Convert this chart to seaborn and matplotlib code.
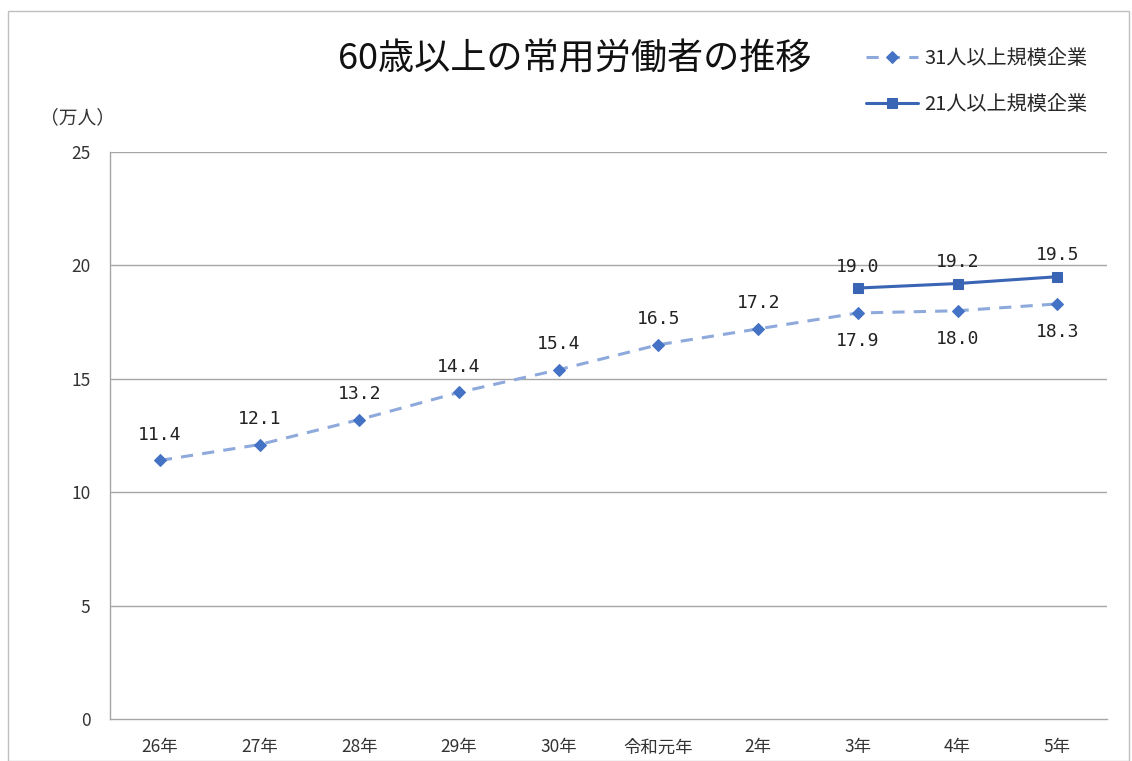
import matplotlib
matplotlib.use("Agg")
import matplotlib.pyplot as plt
import seaborn as sns
import pandas as pd
from matplotlib.patches import Rectangle

categories = ["26年", "27年", "28年", "29年", "30年", "令和元年", "2年", "3年", "4年", "5年"]
over31 = [11.4, 12.1, 13.2, 14.4, 15.4, 16.5, 17.2, 17.9, 18.0, 18.3]
over21_cats = ["3年", "4年", "5年"]
over21 = [19.0, 19.2, 19.5]
name31 = "31人以上規模企業"
name21 = "21人以上規模企業"

sns.set_theme(style="white")
plt.rcParams["font.family"] = ["Noto Sans CJK JP", "DejaVu Sans"]

df31 = pd.DataFrame({"年": categories, "人数": over31})
df21 = pd.DataFrame({"年": over21_cats, "人数": over21})
df31["x"] = range(len(categories))
df21["x"] = [categories.index(c) for c in over21_cats]

fig = plt.figure(figsize=(11.32, 7.61), dpi=100)
ax = fig.add_axes([0.0972, 0.0552, 0.8808, 0.7451])

c31_line = "#8EA9DB"
c_mark = "#4472C4"
c21 = "#3A64B4"

sns.lineplot(data=df31, x="x", y="人数", ax=ax, color=c31_line, lw=2.2,
             linestyle=(0, (4, 3)), marker="D", markersize=6.5,
             markerfacecolor=c_mark, markeredgecolor=c_mark, label=name31)
sns.lineplot(data=df21, x="x", y="人数", ax=ax, color=c21, lw=2.2,
             marker="s", markersize=7, markerfacecolor=c21,
             markeredgecolor=c21, label=name21)

ax.set_xlim(-0.5, len(categories) - 0.5)
ax.set_ylim(0, 25)
ax.set_yticks([0, 5, 10, 15, 20, 25])
ax.set_xticks([i - 0.5 for i in range(len(categories) + 1)], minor=False)
ax.set_xticklabels([])
ax.set_xticks(range(len(categories)), minor=True)
ax.set_xticklabels(categories, minor=True, fontsize=12.5, color="#333333")
ax.tick_params(axis="x", which="major", direction="out", length=6, color="#A6A6A6", width=1)
ax.tick_params(axis="x", which="minor", length=0, pad=14)
ax.tick_params(axis="y", direction="out", length=6, color="#A6A6A6", width=1,
               labelsize=12.5, labelcolor="#333333", pad=8)
ax.set_xlabel("")
ax.set_ylabel("")
for y in [5, 10, 15, 20, 25]:
    ax.axhline(y, color="#A6A6A6", lw=1, zorder=0)
for s in ["top", "right"]:
    ax.spines[s].set_visible(False)
for s in ["left", "bottom"]:
    ax.spines[s].set_color("#A6A6A6")
    ax.spines[s].set_linewidth(1)

lab_font = dict(family=["DejaVu Sans Mono", "Noto Sans CJK JP"], fontsize=13, color="#222222")
for i, v in enumerate(over31):
    if categories[i] in over21_cats:
        ax.annotate(f"{v:.1f}", (i, v), xytext=(0, -14), textcoords="offset points",
                    ha="center", va="top", **lab_font)
    else:
        ax.annotate(f"{v:.1f}", (i, v), xytext=(0, 12), textcoords="offset points",
                    ha="center", va="bottom", **lab_font)
for c, v in zip(over21_cats, over21):
    i = categories.index(c)
    ax.annotate(f"{v:.1f}", (i, v), xytext=(0, 9), textcoords="offset points",
                ha="center", va="bottom", **lab_font)

ax.legend(loc="upper left", bbox_to_anchor=(0.74, 1.215), frameon=False,
          fontsize=14.5, labelspacing=1.25, handlelength=2.6, handletextpad=0.3)

fig.text(0.508, 0.922, "60歳以上の常用労働者の推移", ha="center", va="center",
         fontsize=26, color="#111111")
fig.text(0.035, 0.845, "（万人）", ha="left", va="center", fontsize=13.5, color="#333333")

fig.patches.append(Rectangle((0.007, 0.0), 0.99, 0.985, transform=fig.transFigure,
                             fill=False, edgecolor="#BFBFBF", lw=1))

fig.savefig("out.png", dpi=100)
